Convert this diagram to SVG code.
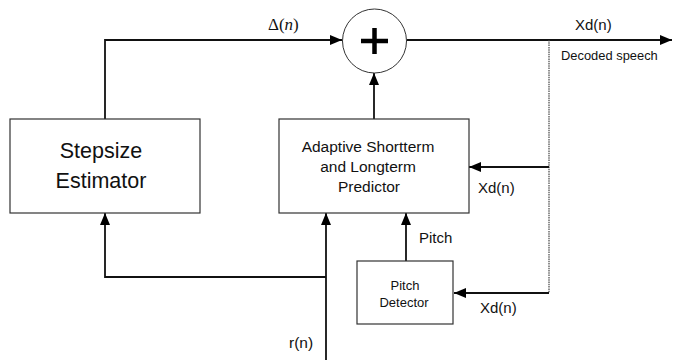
<svg xmlns="http://www.w3.org/2000/svg" width="673" height="360" viewBox="0 0 673 360">
  <style>
    .box { fill: #ffffff; stroke: #333333; stroke-width: 1.2; }
    .wire { fill: none; stroke: #111111; stroke-width: 1.8; }
    .tap { fill: none; stroke: #444444; stroke-width: 1.2; stroke-dasharray: 1.5 0.8; }
    .lbl { font-family: "Liberation Sans", Arial, sans-serif; fill: #111111; }
  </style>
  <defs>
    <marker id="arrow" viewBox="0 0 12 10" refX="12" refY="5" markerWidth="12" markerHeight="10" markerUnits="userSpaceOnUse" orient="auto">
      <path d="M0,0 L12,5 L0,10 z" fill="#000000"/>
    </marker>
  </defs>

  <!-- connectors -->
  <g id="connectors">
    <!-- step size to adder -->
    <polyline class="wire" points="105,119 105,40 342,40" marker-end="url(#arrow)"/>
    <!-- adder output -->
    <line class="wire" x1="407" y1="40" x2="672" y2="40" marker-end="url(#arrow)"/>
    <!-- decoded speech feedback tap -->
    <line class="tap" x1="549" y1="40" x2="549" y2="293"/>
    <line class="wire" x1="549" y1="167" x2="469" y2="167" marker-end="url(#arrow)"/>
    <line class="wire" x1="549" y1="293" x2="454" y2="293" marker-end="url(#arrow)"/>
    <!-- predictor to adder -->
    <line class="wire" x1="374" y1="119" x2="374" y2="73" marker-end="url(#arrow)"/>
    <!-- pitch to predictor -->
    <line class="wire" x1="406" y1="261" x2="406" y2="213" marker-end="url(#arrow)"/>
    <!-- residual input -->
    <line class="wire" x1="326" y1="360" x2="326" y2="213" marker-end="url(#arrow)"/>
    <polyline class="wire" points="326,277 105,277 105,213" marker-end="url(#arrow)"/>
  </g>

  <!-- adder -->
  <g id="adder">
    <circle cx="374.5" cy="41" r="32" fill="#ffffff" stroke="#333333" stroke-width="1"/>
    <path d="M361,41 H388 M374.5,28 V54" stroke="#000000" stroke-width="4.5" fill="none"/>
  </g>

  <!-- step size estimator -->
  <g id="stepsize">
    <rect class="box" x="10" y="119" width="190" height="94"/>
    <text class="lbl" x="101" y="158" font-size="21.5" text-anchor="middle">Stepsize</text>
    <text class="lbl" x="101" y="188" font-size="21.5" text-anchor="middle">Estimator</text>
  </g>

  <!-- predictor -->
  <g id="predictor">
    <rect class="box" x="279" y="119" width="190" height="94"/>
    <text class="lbl" x="368" y="152" font-size="15.5" text-anchor="middle">Adaptive Shortterm</text>
    <text class="lbl" x="368" y="172" font-size="15.5" text-anchor="middle">and Longterm</text>
    <text class="lbl" x="369" y="192" font-size="15.5" text-anchor="middle">Predictor</text>
  </g>

  <!-- pitch detector -->
  <g id="pitch-detector">
    <rect class="box" x="357" y="261" width="96" height="63"/>
    <text class="lbl" x="405" y="290" font-size="13" text-anchor="middle">Pitch</text>
    <text class="lbl" x="404" y="307" font-size="13" text-anchor="middle">Detector</text>
  </g>

  <!-- signal labels -->
  <g id="labels">
    <text x="268" y="30" font-family="'Liberation Serif', 'Times New Roman', serif" font-size="17" fill="#111111">Δ(<tspan font-style="italic">n</tspan>)</text>
    <text class="lbl" x="575" y="30" font-size="15">Xd(n)</text>
    <text class="lbl" x="561" y="60" font-size="12.9">Decoded speech</text>
    <text class="lbl" x="478" y="193" font-size="15">Xd(n)</text>
    <text class="lbl" x="480" y="313" font-size="15">Xd(n)</text>
    <text class="lbl" x="419" y="243" font-size="15">Pitch</text>
    <text class="lbl" x="289" y="348" font-size="15.5">r(n)</text>
  </g>
</svg>
